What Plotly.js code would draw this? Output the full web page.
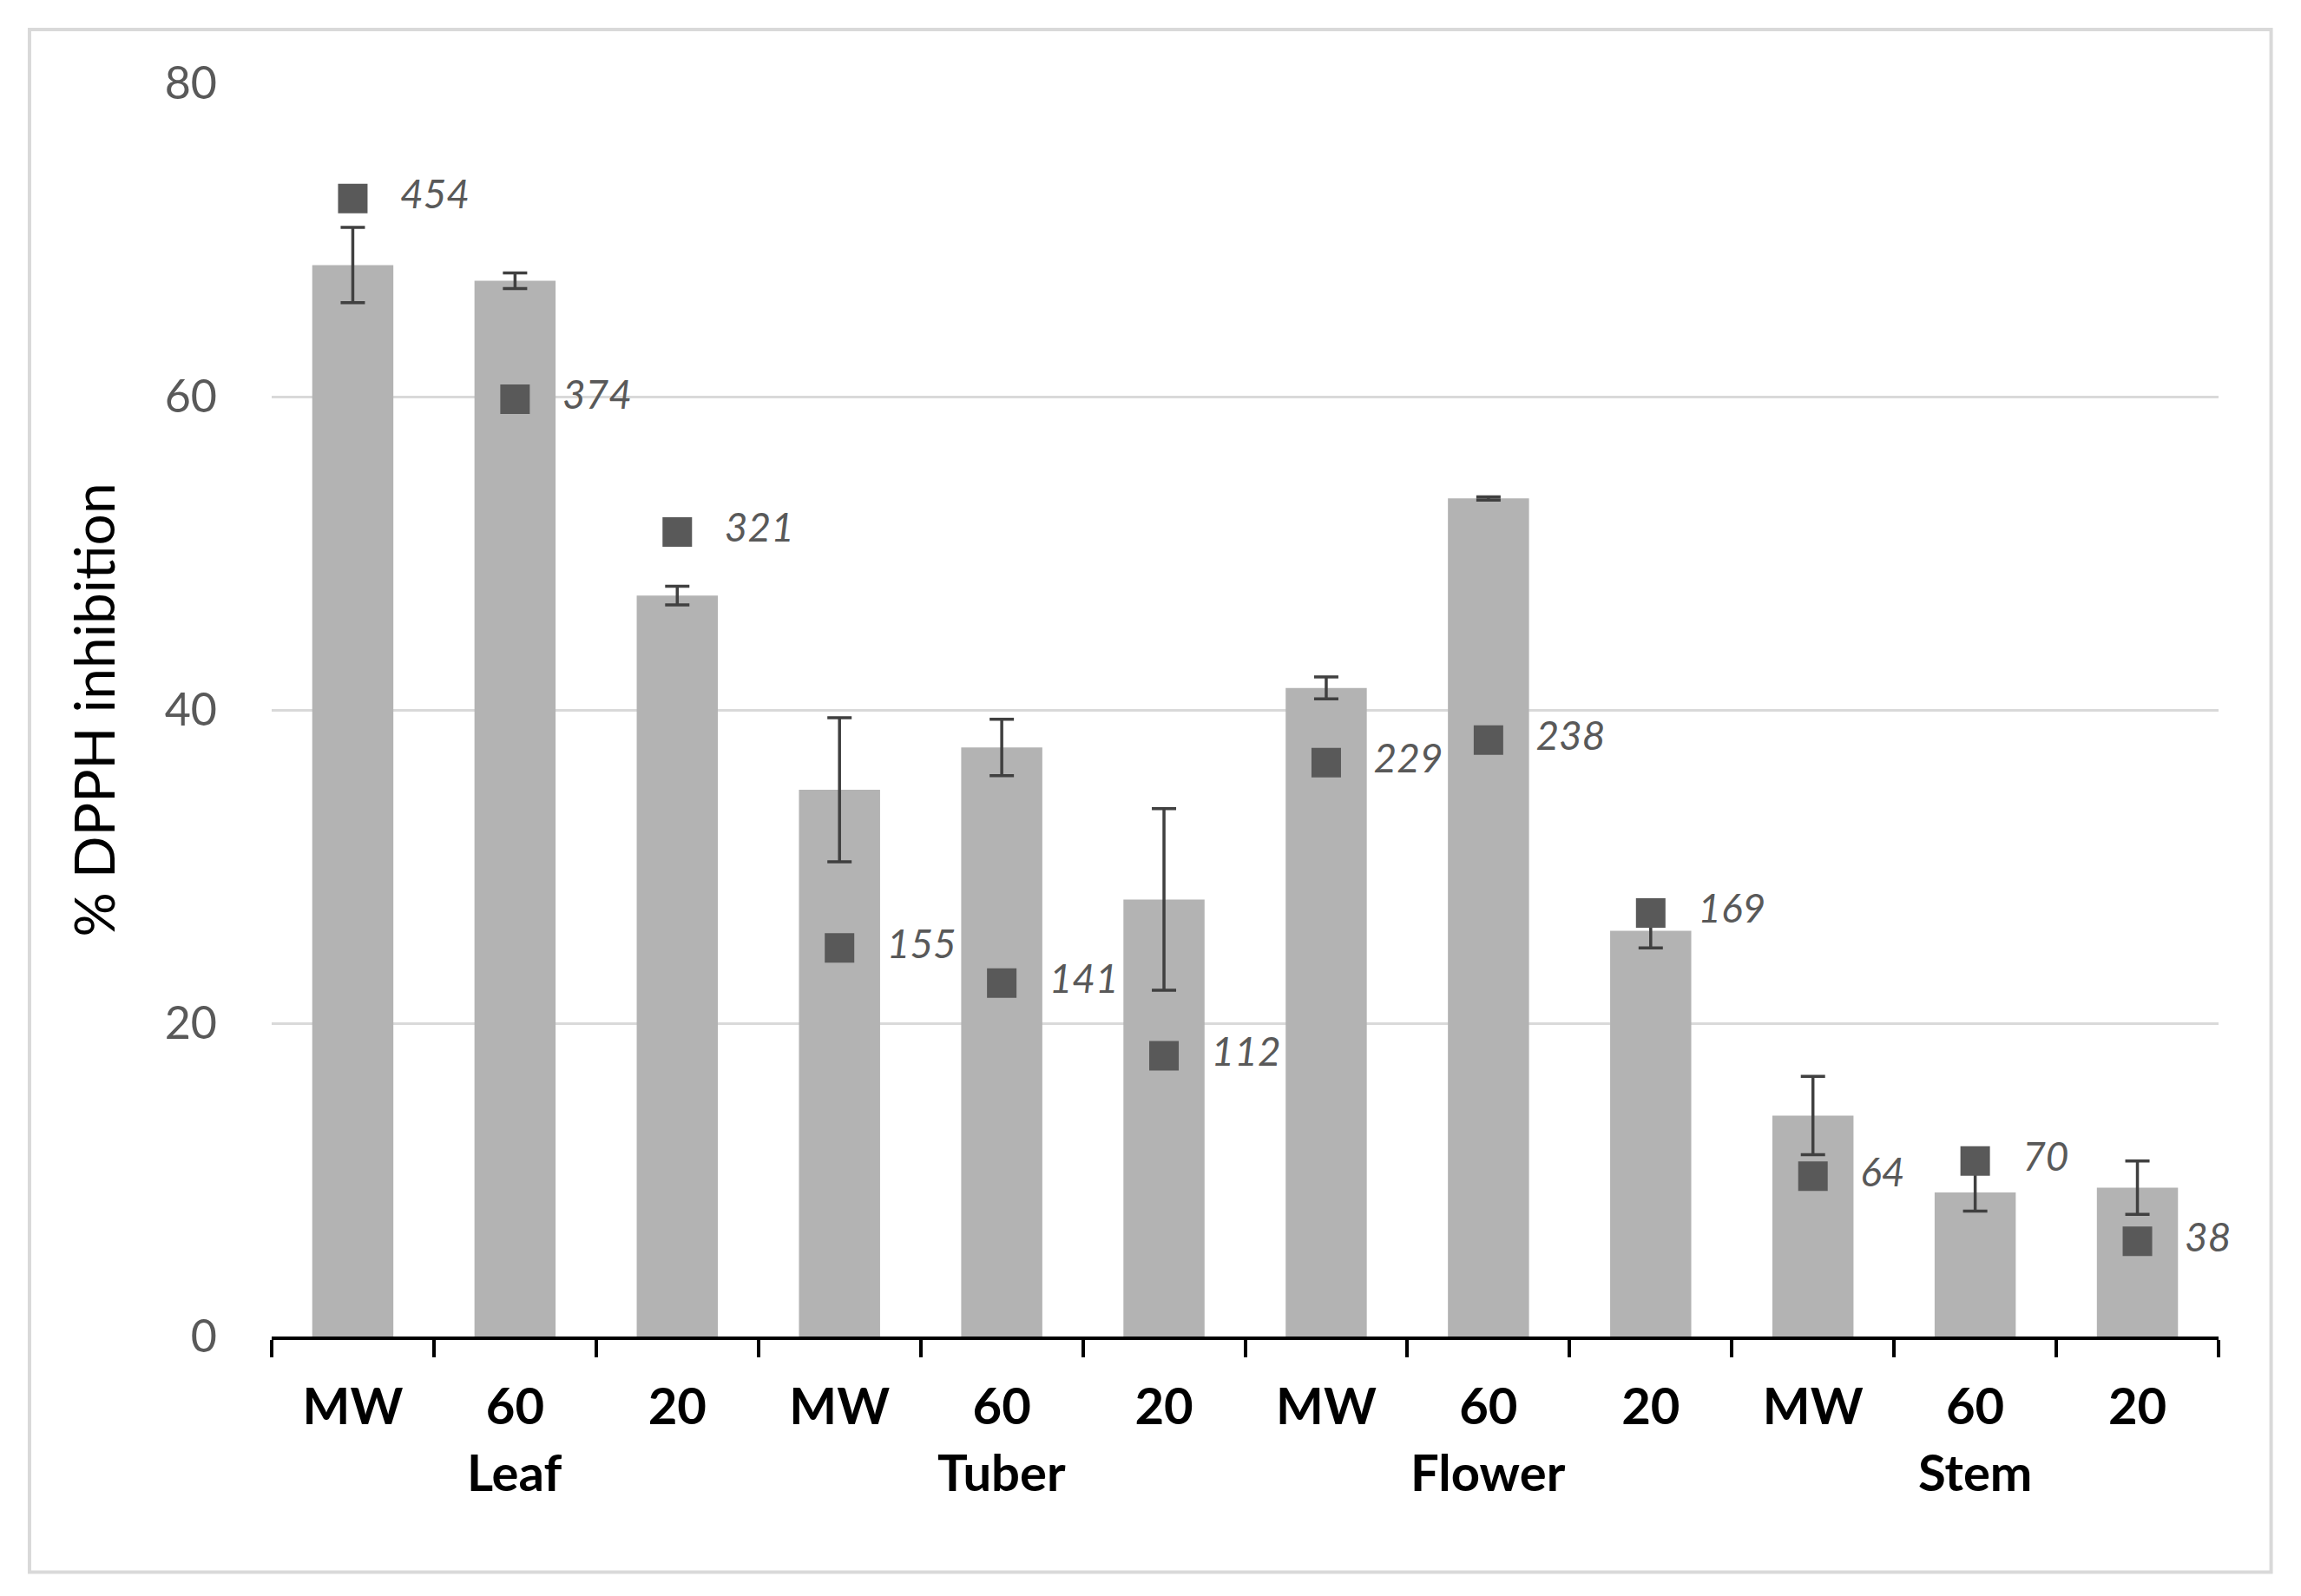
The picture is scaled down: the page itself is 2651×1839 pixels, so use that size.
<!DOCTYPE html>
<html>
<head>
<meta charset="utf-8">
<script src="https://cdn.plot.ly/plotly-3.0.1.min.js"></script>
<style>
  html, body { margin: 0; padding: 0; background: #fff; }
  #plot { width: 2651px; height: 1839px; }
</style>
</head>
<body>
<div id="plot"></div>
<script>
// categories (two levels: plant part, extraction)
var parts   = ['Leaf', 'Leaf', 'Leaf', 'Tuber', 'Tuber', 'Tuber',
               'Flower', 'Flower', 'Flower', 'Stem', 'Stem', 'Stem'];
var methods = ['MW', '60', '20', 'MW', '60', '20', 'MW', '60', '20', 'MW', '60', '20'];
var groups  = ['Leaf', 'Tuber', 'Flower', 'Stem'];

// % DPPH inhibition (bars) and their error
var inhibition = [68.4, 67.4, 47.3, 34.9, 37.6, 27.9, 41.4, 53.5, 25.9, 14.1, 9.2, 9.5];
var inhibErr   = [2.4, 0.5, 0.6, 4.6, 1.8, 5.8, 0.7, 0.1, 1.1, 2.5, 1.2, 1.7];

// values shown by the square markers (hidden secondary axis)
var squareVals = [454, 374, 321, 155, 141, 112, 229, 238, 169, 64, 70, 38];

var fontFam = 'Lato, "Open Sans", "DejaVu Sans", sans-serif';

// category positions on the x axis
var xPos = methods.map(function(m, i) { return i; });
var bounds = [];
for (var i = 0; i <= methods.length; i++) bounds.push(i - 0.5);

// group labels centred under their categories
var groupAnn = groups.map(function(g) {
  var idx = [];
  parts.forEach(function(p, i) { if (p === g) idx.push(i); });
  var mid = (idx[0] + idx[idx.length - 1]) / 2;
  return {
    x: mid, xref: 'x',
    y: -0.108, yref: 'paper',
    yanchor: 'middle',
    text: g,
    showarrow: false,
    font: {family: fontFam, size: 58, color: '#000', weight: 'bold'}
  };
});

var data = [{
  type: 'bar',
  x: xPos,
  y: inhibition,
  marker: {color: '#b3b3b3'},
  error_y: {
    type: 'data',
    array: inhibErr,
    visible: true,
    color: '#404040',
    thickness: 3.5,
    width: 14
  },
  hoverinfo: 'skip'
}, {
  type: 'scatter',
  mode: 'markers+text',
  x: xPos,
  y: squareVals,
  yaxis: 'y2',
  marker: {symbol: 'square', size: 34, color: '#595959'},
  text: squareVals.map(String),
  texttemplate: '\u00a0\u00a0\u00a0%{text}',
  textposition: 'middle right',
  textfont: {family: fontFam, size: 46, color: '#595959', style: 'italic'},
  cliponaxis: false,
  hoverinfo: 'skip'
}];

var layout = {
  width: 2651,
  height: 1839,
  margin: {l: 313, r: 95, t: 96, b: 299},
  paper_bgcolor: '#ffffff',
  plot_bgcolor: '#ffffff',
  showlegend: false,
  hovermode: false,
  bargap: 0.5,
  font: {family: fontFam, color: '#000'},
  xaxis: {
    range: [-0.5, methods.length - 0.5],
    tickmode: 'array',
    tickvals: xPos,
    ticktext: methods,
    ticks: '',
    ticklabelstandoff: 27,
    showline: true,
    linecolor: '#000',
    linewidth: 4,
    zeroline: false,
    showgrid: false,
    tickfont: {family: fontFam, size: 58, color: '#000', weight: 'bold'},
    minor: {
      tickmode: 'array',
      tickvals: bounds,
      ticks: 'outside',
      ticklen: 20,
      tickwidth: 4,
      tickcolor: '#000',
      showgrid: false
    }
  },
  yaxis: {
    range: [0, 80],
    dtick: 20,
    showline: false,
    ticks: '',
    zeroline: false,
    gridcolor: '#d9d9d9',
    gridwidth: 3,
    tickfont: {family: fontFam, size: 52, color: '#595959'},
    ticklabelstandoff: 62,
    title: {text: '% DPPH inhibition', font: {family: fontFam, size: 64, color: '#000'}, standoff: 36}
  },
  yaxis2: {
    overlaying: 'y',
    range: [0, 500],
    visible: false
  },
  annotations: groupAnn,
  shapes: [{
    type: 'rect',
    xref: 'paper', yref: 'paper',
    x0: -0.1244, x1: 1.027,
    y0: -0.188, y1: 1.043,
    line: {color: '#d9d9d9', width: 4},
    fillcolor: 'rgba(0,0,0,0)',
    layer: 'below'
  }]
};

Plotly.newPlot('plot', data, layout, {staticPlot: true});
</script>
</body>
</html>
